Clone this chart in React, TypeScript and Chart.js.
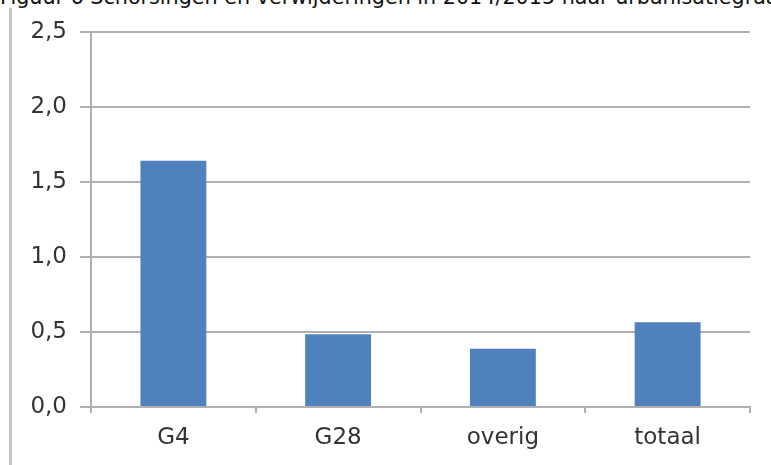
import React, { useEffect, useRef } from "react";
import { Chart, registerables } from "chart.js";

Chart.register(...registerables);

const titleText = "Figuur 6 Schorsingen en verwijderingen in 2014/2015 naar urbanisatiegraad";
const categories = ["G4", "G28", "overig", "totaal"];
const values = [1.642, 0.485, 0.389, 0.565];
const yTicks = [0, 0.5, 1.0, 1.5, 2.0, 2.5];

export default function App() {
  const ref = useRef<HTMLCanvasElement | null>(null);

  useEffect(() => {
    if (!ref.current) return;
    const chart = new Chart(ref.current, {
      type: "bar",
      data: {
        labels: categories,
        datasets: [
          {
            data: values,
            backgroundColor: "#4f81bd",
            borderWidth: 0,
            categoryPercentage: 1,
            barPercentage: 0.4,
          },
        ],
      },
      options: {
        animation: false,
        responsive: false,
        devicePixelRatio: 1,
        layout: { padding: { top: 32, right: 21, left: 0, bottom: 0 } },
        plugins: {
          legend: { display: false },
          tooltip: { enabled: false },
          title: { display: false },
        },
        scales: {
          x: {
            offset: true,
            grid: {
              offset: true,
              drawOnChartArea: false,
              drawTicks: true,
              tickLength: 6,
              color: "#b0b0b0",
              lineWidth: 2,
            },
            border: { display: true, color: "#b0b0b0", width: 2 },
            ticks: {
              color: "#333",
              padding: 11,
              font: { family: "DejaVu Sans", size: 23 },
              maxRotation: 0,
            },
            afterFit: (s: any) => {
              s.height = 58;
            },
          },
          y: {
            min: 0,
            max: 2.5,
            afterBuildTicks: (s: any) => {
              s.ticks = yTicks.map((v) => ({ value: v }));
            },
            grid: {
              color: "#b0b0b0",
              lineWidth: 2,
              drawTicks: true,
              tickLength: 11,
            },
            border: { display: true, color: "#b0b0b0", width: 2 },
            ticks: {
              color: "#333",
              padding: 13,
              font: { family: "DejaVu Sans", size: 23 },
              callback: (v: any) => Number(v).toFixed(1).replace(".", ","),
            },
            afterFit: (s: any) => {
              s.width = 91;
            },
          },
        },
      },
    });
    return () => chart.destroy();
  }, []);

  return (
    <div
      style={{
        position: "absolute",
        left: 0,
        top: 0,
        width: 771,
        height: 465,
        overflow: "hidden",
        background: "#fff",
      }}
    >
      <div
        style={{
          position: "absolute",
          left: 0,
          top: -13,
          whiteSpace: "nowrap",
          fontFamily: "DejaVu Sans",
          fontSize: 20.7,
          lineHeight: "21px",
          color: "#111",
        }}
      >
        {titleText}
      </div>
      <div
        style={{
          position: "absolute",
          left: 9,
          top: 8,
          width: 3,
          height: 457,
          background: "#c4c4c4",
        }}
      />
      <canvas
        ref={ref}
        width={771}
        height={465}
        style={{ position: "absolute", left: 0, top: 0, width: 771, height: 465 }}
      />
    </div>
  );
}
